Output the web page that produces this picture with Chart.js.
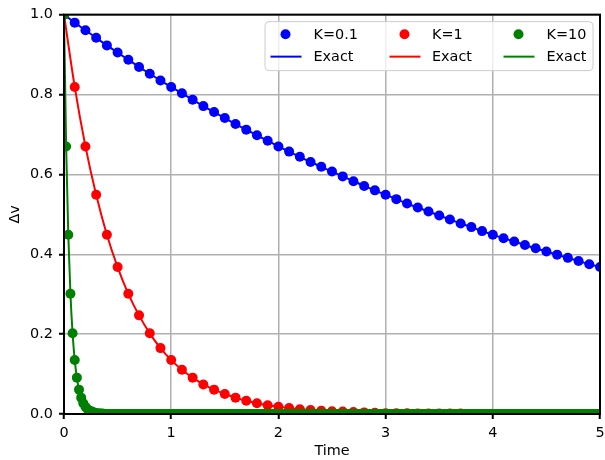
<!DOCTYPE html>
<html>
<head>
<meta charset="utf-8">
<script src="https://cdn.jsdelivr.net/npm/chart.js@4.4.1/dist/chart.umd.min.js"></script>
<style>
    html, body { margin: 0; padding: 0; background: #fff; }
    #wrap { width: 605px; height: 460px; }
</style>
</head>
<body>
<div id="wrap"><canvas id="decayChart" width="605" height="460"></canvas></div>
<script>
// Sampling steps of the three runs (time units)
const timeStepSlow = 0.1;   // K=0.1 and K=1
const timeStepFast = 0.02;  // K=10

// Δv, K=0.1 (t = 0 .. 5, step 0.1)
const deltaK01 = [
    1.000, 0.980, 0.961, 0.942, 0.923, 0.905, 0.887, 0.869, 0.852, 0.835,
    0.819, 0.803, 0.787, 0.771, 0.756, 0.741, 0.726, 0.712, 0.698, 0.684,
    0.670, 0.657, 0.644, 0.631, 0.619, 0.607, 0.595, 0.583, 0.571, 0.560,
    0.549, 0.538, 0.527, 0.517, 0.507, 0.497, 0.487, 0.477, 0.468, 0.458,
    0.449, 0.440, 0.432, 0.423, 0.415, 0.407, 0.399, 0.391, 0.383, 0.375,
    0.368
];

// K=1 (t = 0 .. 5, step 0.1)
const deltaK1 = [
    1.000, 0.819, 0.670, 0.549, 0.449, 0.368, 0.301, 0.247, 0.202, 0.165,
    0.135, 0.111, 0.091, 0.074, 0.061, 0.050, 0.041, 0.033, 0.027, 0.022,
    0.018, 0.015, 0.012, 0.010, 0.008, 0.007, 0.006, 0.005, 0.004, 0.003,
    0.002, 0.002, 0.002, 0.001, 0.001, 0.001, 0.001, 0.001, 0.000, 0.000,
    0.000, 0.000, 0.000, 0.000, 0.000, 0.000, 0.000, 0.000, 0.000, 0.000,
    0.000
];

// K=10 (t = 0 .. 5, step 0.02)
const deltaK10 = [
    1.000, 0.670, 0.449, 0.301, 0.202, 0.135, 0.091, 0.061, 0.041, 0.027,
    0.018, 0.012, 0.008, 0.006, 0.004, 0.002, 0.002, 0.001, 0.001, 0.000,
    0, 0, 0, 0, 0, 0, 0, 0, 0, 0,
    0, 0, 0, 0, 0, 0, 0, 0, 0, 0,
    0, 0, 0, 0, 0, 0, 0, 0, 0, 0,
    0, 0, 0, 0, 0, 0, 0, 0, 0, 0,
    0, 0, 0, 0, 0, 0, 0, 0, 0, 0,
    0, 0, 0, 0, 0, 0, 0, 0, 0, 0,
    0, 0, 0, 0, 0, 0, 0, 0, 0, 0,
    0, 0, 0, 0, 0, 0, 0, 0, 0, 0,
    0, 0, 0, 0, 0, 0, 0, 0, 0, 0,
    0, 0, 0, 0, 0, 0, 0, 0, 0, 0,
    0, 0, 0, 0, 0, 0, 0, 0, 0, 0,
    0, 0, 0, 0, 0, 0, 0, 0, 0, 0,
    0, 0, 0, 0, 0, 0, 0, 0, 0, 0,
    0, 0, 0, 0, 0, 0, 0, 0, 0, 0,
    0, 0, 0, 0, 0, 0, 0, 0, 0, 0,
    0, 0, 0, 0, 0, 0, 0, 0, 0, 0,
    0, 0, 0, 0, 0, 0, 0, 0, 0, 0,
    0, 0, 0, 0, 0, 0, 0, 0, 0, 0,
    0, 0, 0, 0, 0, 0, 0, 0, 0, 0,
    0, 0, 0, 0, 0, 0, 0, 0, 0, 0,
    0, 0, 0, 0, 0, 0, 0, 0, 0, 0,
    0, 0, 0, 0, 0, 0, 0, 0, 0, 0,
    0, 0, 0, 0, 0, 0, 0, 0, 0, 0,
    0
];

// Axis ticks
const xTicks = [0, 1, 2, 3, 4, 5];
const yTicks = [0.0, 0.2, 0.4, 0.6, 0.8, 1.0];

// Series labels and colours
const seriesLabels = ['K=0.1', 'K=1', 'K=10'];
const exactLabel = 'Exact';
const seriesColors = ['#0000ff', '#ff0000', '#008000'];

const FONT = "'DejaVu Sans', sans-serif";
const FONT_SIZE = 14.4;
const DOT_RADIUS = 5;

// Pair each value with its sample time
function toPoints(values, step) {
    return values.map((v, i) => ({ x: +(i * step).toFixed(2), y: v }));
}

// Marker-only dataset
function markerSet(label, values, step, color, order) {
    return {
        label: label,
        data: toPoints(values, step),
        showLine: false,
        pointRadius: DOT_RADIUS,
        pointHoverRadius: DOT_RADIUS,
        pointBackgroundColor: color,
        pointBorderColor: color,
        pointBorderWidth: 0,
        clip: 0,
        order: order
    };
}

// Line-only dataset (exact solution)
function lineSet(values, step, color, order) {
    return {
        label: exactLabel,
        data: toPoints(values, step),
        showLine: true,
        borderColor: color,
        borderWidth: 2,
        cubicInterpolationMode: 'monotone',
        pointRadius: 0,
        clip: 0,
        order: order
    };
}

// Frame (all four spines) and the 3-column legend
const frameLegendPlugin = {
    id: 'frameLegend',
    afterDatasetsDraw(chart) {
        const ctx = chart.ctx;
        const { left, top, right, bottom } = chart.chartArea;
        ctx.save();

        ctx.strokeStyle = '#000';
        ctx.lineWidth = 2;
        ctx.strokeRect(left, top, right - left, bottom - top);

        // legend box
        const boxW = 328, boxH = 49;
        const bx = right - 7 - boxW;
        const by = top + 7;
        ctx.beginPath();
        ctx.roundRect(bx, by, boxW, boxH, 4);
        ctx.fillStyle = 'rgba(255,255,255,0.8)';
        ctx.fill();
        ctx.strokeStyle = '#cccccc';
        ctx.lineWidth = 1;
        ctx.stroke();

        const markerX = [20.5, 139.5, 253.5];
        const textX = [48.5, 167, 281.5];
        const row1 = by + 12.6;
        const row2 = by + 35;
        ctx.font = FONT_SIZE + 'px ' + FONT;
        ctx.textBaseline = 'middle';
        ctx.textAlign = 'left';
        seriesLabels.forEach((label, i) => {
            const cx = bx + markerX[i];
            ctx.fillStyle = seriesColors[i];
            ctx.beginPath();
            ctx.arc(cx, row1, DOT_RADIUS, 0, Math.PI * 2);
            ctx.fill();
            ctx.strokeStyle = seriesColors[i];
            ctx.lineWidth = 2;
            ctx.beginPath();
            ctx.moveTo(cx - 15, row2);
            ctx.lineTo(cx + 16, row2);
            ctx.stroke();
            ctx.fillStyle = '#000';
            ctx.fillText(label, bx + textX[i], row1 + 1);
            ctx.fillText(exactLabel, bx + textX[i], row2 + 1);
        });
        ctx.restore();
    }
};

const datasets = [
    markerSet(seriesLabels[0], deltaK01, timeStepSlow, seriesColors[0], 5),
    lineSet(deltaK01, timeStepSlow, seriesColors[0], 4),
    markerSet(seriesLabels[1], deltaK1, timeStepSlow, seriesColors[1], 3),
    lineSet(deltaK1, timeStepSlow, seriesColors[1], 2),
    markerSet(seriesLabels[2], deltaK10, timeStepFast, seriesColors[2], 1),
    lineSet(deltaK10, timeStepFast, seriesColors[2], 0)
];

const gridStyle = { color: '#b0b0b0', lineWidth: 1.5, tickLength: 5, tickColor: '#000', tickWidth: 2 };

const ctx = document.getElementById('decayChart').getContext('2d');
new Chart(ctx, {
    type: 'scatter',
    data: { datasets: datasets },
    options: {
        responsive: false,
        animation: false,
        events: [],
        layout: { padding: { top: 13, right: 3, left: 0, bottom: 0 } },
        plugins: {
            legend: { display: false },
            tooltip: { enabled: false }
        },
        scales: {
            x: {
                type: 'linear',
                min: 0,
                max: 5,
                afterBuildTicks(scale) { scale.ticks = xTicks.map(v => ({ value: v })); },
                afterFit(scale) {
                    scale.height = 46;
                    // let the last tick label run off the edge like the original
                    scale.paddingRight = 0;
                    scale.paddingLeft = 0;
                },
                grid: gridStyle,
                border: { display: false },
                ticks: {
                    color: '#000',
                    font: { family: FONT, size: FONT_SIZE },
                    padding: 6,
                    maxRotation: 0,
                    callback: v => String(v)
                },
                title: {
                    display: true,
                    text: 'Time',
                    color: '#000',
                    font: { family: FONT, size: FONT_SIZE },
                    padding: { top: 2, bottom: 0.5 }
                }
            },
            y: {
                type: 'linear',
                min: 0,
                max: 1,
                afterBuildTicks(scale) { scale.ticks = yTicks.map(v => ({ value: v })); },
                afterFit(scale) { scale.width = 64; },
                grid: gridStyle,
                border: { display: false },
                ticks: {
                    color: '#000',
                    font: { family: FONT, size: FONT_SIZE },
                    padding: 6,
                    callback: v => v.toFixed(1)
                },
                title: {
                    display: true,
                    text: 'Δv',
                    color: '#000',
                    font: { family: FONT, size: FONT_SIZE },
                    padding: { top: 7, bottom: 2 }
                }
            }
        }
    },
    plugins: [frameLegendPlugin]
});
</script>
</body>
</html>
